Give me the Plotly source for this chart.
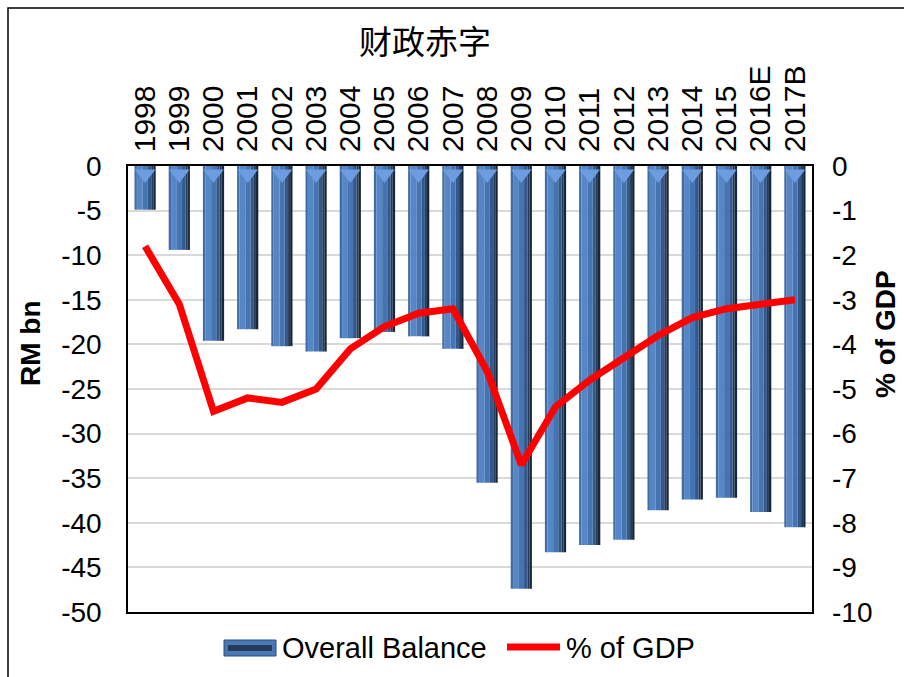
import plotly.graph_objects as go

##########################
# DATA
##########################
years = ['1998', '1999', '2000', '2001', '2002', '2003', '2004', '2005', '2006', '2007',
         '2008', '2009', '2010', '2011', '2012', '2013', '2014', '2015', '2016E', '2017B']
overall_balance = [-4.9, -9.4, -19.6, -18.3, -20.2, -20.8, -19.3, -18.6, -19.1, -20.5,
                   -35.5, -47.4, -43.3, -42.5, -41.9, -38.6, -37.4, -37.2, -38.8, -40.5]
pct_gdp = [-1.8, -3.1, -5.5, -5.2, -5.3, -5.0, -4.1, -3.6, -3.3, -3.2,
           -4.6, -6.7, -5.4, -4.8, -4.3, -3.8, -3.4, -3.2, -3.1, -3.0]
left_ticks = [0, -5, -10, -15, -20, -25, -30, -35, -40, -45, -50]
right_ticks = [0, -1, -2, -3, -4, -5, -6, -7, -8, -9, -10]

font_en = 'Liberation Sans, Arial, sans-serif'
font_cn = 'Noto Sans CJK SC, sans-serif'

# plot area in pixels (used to place the hand-made legend / titles)
W, H = 904, 677
L, R, T, B = 128, 812, 166, 612


def px(x):
    return (x - L) / (R - L)


def py(y):
    return (B - y) / (B - T)


# bar shading strips (offset, width, colour) to fake the bevelled column look
strips = [
    (-0.31, 0.07, '#416da5'),
    (-0.24, 0.17, '#5686c6'),
    (-0.07, 0.15, '#4674b2'),
    (0.08, 0.10, '#33598b'),
    (0.18, 0.06, '#243b5c'),
    (0.24, 0.07, '#172639'),
]

fig = go.Figure()

for off, w, col in strips:
    fig.add_trace(go.Bar(
        x=years, y=overall_balance,
        width=[w] * len(years), offset=[off] * len(years),
        marker_color=col, marker_line_width=0,
        name='Overall Balance', showlegend=False, hoverinfo='skip',
    ))

# light bevel triangle at the top of each column
fig.add_trace(go.Scatter(
    x=years, y=[-0.9] * len(years), mode='markers',
    marker=dict(symbol='triangle-down', size=18, color='#6b9de0', line_width=0),
    showlegend=False, hoverinfo='skip',
))

fig.add_trace(go.Scatter(
    x=years, y=pct_gdp, yaxis='y2',
    mode='lines', line=dict(color='#ff0000', width=7),
    name='% of GDP', showlegend=False,
))

##########################
# LEGEND / TITLES BY HAND
##########################
shapes = [
    # outer chart border (runs off the right and bottom edge)
    dict(type='rect', xref='paper', yref='paper',
         x0=px(8), x1=px(W + 20), y0=py(H + 20), y1=py(8),
         line=dict(color='black', width=1.5), layer='below'),
    # legend: bar symbol
    dict(type='rect', xref='paper', yref='paper',
         x0=px(224), x1=px(276), y0=py(656), y1=py(640),
         fillcolor='#4a78b4', line=dict(color='#2c4a72', width=1)),
    dict(type='rect', xref='paper', yref='paper',
         x0=px(228), x1=px(272), y0=py(651), y1=py(645),
         fillcolor='#243a5a', line_width=0),
    # legend: line symbol
    dict(type='line', xref='paper', yref='paper',
         x0=px(507), x1=px(560), y0=py(647), y1=py(647),
         line=dict(color='#ff0000', width=7)),
]

annotations = [
    dict(text='财政赤字', x=px(425), y=py(40),
         font=dict(family=font_cn, size=33, color='black')),
    dict(text='<b>RM bn</b>', x=px(30), y=py(343), textangle=-90,
         font=dict(size=28)),
    dict(text='<b>% of GDP</b>', x=px(885), y=py(334), textangle=-90,
         font=dict(size=28)),
    dict(text='Overall Balance', x=px(280), y=py(648), xanchor='left',
         font=dict(size=29)),
    dict(text='% of GDP', x=px(564), y=py(648), xanchor='left',
         font=dict(size=29)),
]
for a in annotations:
    a.setdefault('xanchor', 'center')
    a.update(xref='paper', yref='paper', yanchor='middle', showarrow=False)

fig.update_layout(
    width=W, height=H,
    barmode='overlay',
    paper_bgcolor='white', plot_bgcolor='white',
    margin={'t': T, 'l': L, 'r': W - R, 'b': H - B, 'autoexpand': False},
    font=dict(family=font_en, size=28, color='black'),
    showlegend=False,
    xaxis=dict(side='top', tickangle=-90, tickmode='array', tickvals=years,
               range=[-0.5, len(years) - 0.5],
               showline=True, linecolor='black', linewidth=1.5,
               mirror=True, showgrid=False, ticks='', tickfont=dict(size=30),
               ticklabelstandoff=6, automargin=False),
    yaxis=dict(range=[-50, 0], tickvals=left_ticks, ticktext=[str(v) for v in left_ticks],
               showline=True, linecolor='black', linewidth=1.5,
               mirror=True, gridcolor='#d9d9d9', gridwidth=2, zeroline=False,
               ticks='', ticklabelstandoff=19, automargin=False),
    yaxis2=dict(range=[-10, 0], tickvals=right_ticks, ticktext=[str(v) for v in right_ticks],
                overlaying='y', side='right', showgrid=False,
                zeroline=False, ticks='', ticklabelstandoff=19, automargin=False),
    annotations=annotations,
    shapes=shapes,
)

fig.write_html('out.html', config={'displayModeBar': False},
               post_script="document.body.style.margin='0';")
